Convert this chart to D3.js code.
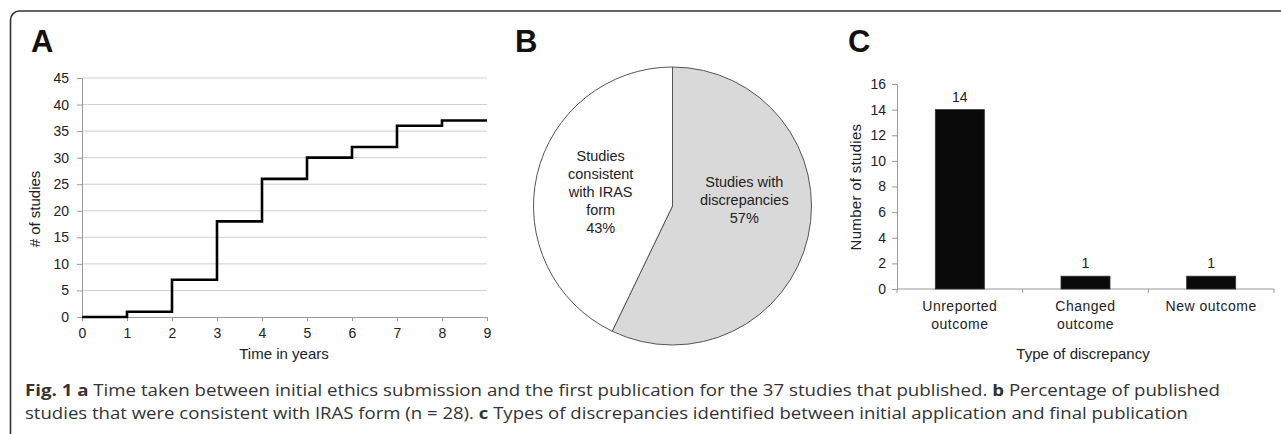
<!DOCTYPE html>
<html>
<head>
<meta charset="utf-8">
<script src="https://cdn.jsdelivr.net/npm/d3@7"></script>
<style>
  body { margin: 0; background: #fff; }
  svg { display: block; }
</style>
</head>
<body>
<div id="fig"></div>
<script>
  // panel A: cumulative number of published studies by year
  var years = [0, 1, 2, 3, 4, 5, 6, 7, 8, 9]
  var cumStudies = [0, 1, 7, 18, 26, 30, 32, 36, 37, 37]
  var yTicksA = [0, 5, 10, 15, 20, 25, 30, 35, 40, 45]

  // panel B: consistency with IRAS form
  var pieNames = ["Studies with discrepancies", "Studies consistent with IRAS form"]
  var pieValues = [16, 12]
  var pieLines = [["Studies with", "discrepancies"], ["Studies", "consistent", "with IRAS", "form"]]

  // panel C: discrepancy types
  var discTypes = ["Unreported outcome", "Changed outcome", "New outcome"]
  var discLines = [["Unreported", "outcome"], ["Changed", "outcome"], ["New outcome"]]
  var discCounts = [14, 1, 1]
  var yTicksC = [0, 2, 4, 6, 8, 10, 12, 14, 16]

  var W = 1281, H = 434
  var chartFont = "'Liberation Sans', Arial, sans-serif"
  var ink = "#222"

  var svg = d3.select("#fig").append("svg")
    .attr("width", W)
    .attr("height", H)

  // frame, open to the right and bottom like the cropped figure box
  svg.append("rect")
    .attr("x", 10.5).attr("y", 11)
    .attr("width", W + 20).attr("height", H + 10)
    .attr("rx", 9).attr("ry", 9)
    .attr("fill", "none")
    .attr("stroke", "#333")
    .attr("stroke-width", 1.6)

  var panelLetter = (x, t) => {
    svg.append("text")
      .attr("x", x).attr("y", 52)
      .attr("font-family", chartFont)
      .attr("font-weight", "bold")
      .attr("font-size", "31px")
      .attr("fill", "#111")
      .text(t)
  }
  panelLetter(31, "A")
  panelLetter(515, "B")
  panelLetter(848, "C")

  var styleAxis = (g) => {
    g.select(".domain").attr("stroke", "#999")
    g.selectAll(".tick line").attr("stroke", "#999")
    g.selectAll("text").attr("font-family", chartFont).attr("font-size", "14px").attr("fill", ink)
  }

  // ---------- A: step line ----------
  var xA = d3.scaleLinear().domain([0, 9]).range([82, 487])
  var yA = d3.scaleLinear().domain([0, 45]).range([317, 78])

  var gA = svg.append("g")

  gA.selectAll("line.grid")
    .data(yTicksA.slice(1))
    .enter().append("line")
    .attr("class", "grid")
    .attr("x1", xA(0)).attr("x2", xA(9))
    .attr("y1", (d) => yA(d)).attr("y2", (d) => yA(d))
    .attr("stroke", "#cfcfcf")
    .attr("stroke-width", 1)

  var yAxisA = d3.axisLeft(yA).tickValues(yTicksA).tickSize(5).tickPadding(8)
  gA.append("g")
    .attr("transform", "translate(" + xA(0) + ",0)")
    .call(yAxisA)
    .call(styleAxis)

  var xAxisA = d3.axisBottom(xA).tickValues(years).tickSize(4).tickPadding(7)
  gA.append("g")
    .attr("transform", "translate(0," + yA(0) + ")")
    .call(xAxisA)
    .call(styleAxis)

  var stepLine = d3.line()
    .x((d, i) => xA(years[i]))
    .y((d) => yA(d))
    .curve(d3.curveStepAfter)

  gA.append("path")
    .datum(cumStudies)
    .attr("d", stepLine)
    .attr("fill", "none")
    .attr("stroke", "#000")
    .attr("stroke-width", 2.6)

  gA.append("text")
    .attr("transform", "translate(40,209) rotate(-90)")
    .attr("text-anchor", "middle")
    .attr("font-family", chartFont)
    .attr("font-size", "15px")
    .attr("fill", ink)
    .text("# of studies")

  gA.append("text")
    .attr("x", 284).attr("y", 359)
    .attr("text-anchor", "middle")
    .attr("font-family", chartFont)
    .attr("font-size", "15px")
    .attr("fill", ink)
    .text("Time  in years")

  // ---------- B: pie ----------
  var cx = 672.5, cy = 206, r = 139
  var pie = d3.pie().sort(null).value((d) => d)
  var arcs = pie(pieValues)
  var arc = d3.arc().innerRadius(0).outerRadius(r)
  var labelArc = d3.arc().innerRadius(r * 0.53).outerRadius(r * 0.53)
  var total = d3.sum(pieValues)
  var sliceFill = ["#d9d9d9", "#ffffff"]

  var gB = svg.append("g").attr("transform", "translate(" + cx + "," + cy + ")")

  gB.selectAll("path")
    .data(arcs)
    .enter().append("path")
    .attr("d", arc)
    .attr("fill", (d, i) => sliceFill[i])
    .attr("stroke", "#555")
    .attr("stroke-width", 1)

  gB.selectAll("text.lbl")
    .data(arcs)
    .enter().append("text")
    .attr("class", "lbl")
    .attr("font-family", chartFont)
    .attr("font-size", "14.5px")
    .attr("fill", ink)
    .attr("text-anchor", "middle")
    .each(function (d, i) {
      var lines = pieLines[i].concat([Math.round(d.value / total * 100) + "%"])
      var c = labelArc.centroid(d)
      var lh = 18
      var top = -10 + c[1] * 0.25 - (lines.length - 1) * lh / 2
      var t = d3.select(this)
      lines.forEach((s, k) => {
        t.append("tspan")
          .attr("x", c[0])
          .attr("y", top + k * lh)
          .attr("dy", "0.35em")
          .text(s)
      })
    })

  // ---------- C: bars ----------
  var xC = d3.scaleBand().domain(discTypes).range([897, 1274]).padding(0)
  var yC = d3.scaleLinear().domain([0, 16]).range([289, 84])
  var barW = xC.bandwidth() * 0.39

  var gC = svg.append("g")

  var yAxisC = d3.axisLeft(yC).tickValues(yTicksC).tickSize(5).tickPadding(6)
  gC.append("g")
    .attr("transform", "translate(897,0)")
    .call(yAxisC)
    .call(styleAxis)

  // x axis: line plus ticks at category boundaries
  gC.append("line")
    .attr("x1", 897).attr("x2", 1274)
    .attr("y1", yC(0)).attr("y2", yC(0))
    .attr("stroke", "#999")
  gC.selectAll("line.bt")
    .data(discTypes.concat(["end"]))
    .enter().append("line")
    .attr("class", "bt")
    .attr("x1", (d, i) => 897 + i * xC.step())
    .attr("x2", (d, i) => 897 + i * xC.step())
    .attr("y1", yC(0)).attr("y2", yC(0) + 4)
    .attr("stroke", "#999")

  gC.selectAll("rect")
    .data(discCounts)
    .enter().append("rect")
    .attr("x", (d, i) => xC(discTypes[i]) + (xC.bandwidth() - barW) / 2)
    .attr("width", barW)
    .attr("y", (d) => yC(d))
    .attr("height", (d) => yC(0) - yC(d))
    .attr("fill", "#0a0a0a")
    .attr("stroke", "#333")
    .attr("stroke-width", 0.8)

  gC.selectAll("text.val")
    .data(discCounts)
    .enter().append("text")
    .attr("class", "val")
    .attr("x", (d, i) => xC(discTypes[i]) + xC.bandwidth() / 2)
    .attr("y", (d) => yC(d) - 8)
    .attr("text-anchor", "middle")
    .attr("font-family", chartFont)
    .attr("font-size", "14px")
    .attr("fill", ink)
    .text((d) => d)

  gC.selectAll("text.cat")
    .data(discLines)
    .enter().append("text")
    .attr("class", "cat")
    .attr("text-anchor", "middle")
    .attr("font-family", chartFont)
    .attr("font-size", "14px")
    .attr("letter-spacing", "0.5px")
    .attr("fill", ink)
    .each(function (lines, i) {
      var t = d3.select(this)
      lines.forEach((s, k) => {
        t.append("tspan")
          .attr("x", xC(discTypes[i]) + xC.bandwidth() / 2)
          .attr("y", 311 + k * 18)
          .text(s)
      })
    })

  gC.append("text")
    .attr("transform", "translate(861,187) rotate(-90)")
    .attr("text-anchor", "middle")
    .attr("font-family", chartFont)
    .attr("font-size", "15px")
    .attr("letter-spacing", "0.3px")
    .attr("fill", ink)
    .text("Number  of studies")

  gC.append("text")
    .attr("x", 1083).attr("y", 359)
    .attr("text-anchor", "middle")
    .attr("font-family", chartFont)
    .attr("font-size", "15px")
    .attr("fill", ink)
    .text("Type of discrepancy")

  // ---------- caption ----------
  var captionRows = [
    [["b", "Fig. 1 a"], ["n", " Time taken between initial ethics submission and the first publication for the 37 studies that published. "], ["b", "b"], ["n", " Percentage of published"]],
    [["n", "studies that were consistent with IRAS form (n = 28). "], ["b", "c"], ["n", " Types of discrepancies identified between initial application and final publication"]]
  ]
  var captionWidths = [1195, 1163]

  captionRows.forEach((row, k) => {
    var t = svg.append("text")
      .attr("x", 25).attr("y", 396 + k * 23)
      .attr("font-family", "'Open Sans', sans-serif")
      .attr("font-size", "16.5px")
      .attr("fill", "#333")
      .attr("textLength", captionWidths[k])
      .attr("lengthAdjust", "spacingAndGlyphs")
    row.forEach((part) => {
      t.append("tspan")
        .attr("font-weight", part[0] == "b" ? "bold" : "normal")
        .text(part[1])
    })
  })
</script>
</body>
</html>
